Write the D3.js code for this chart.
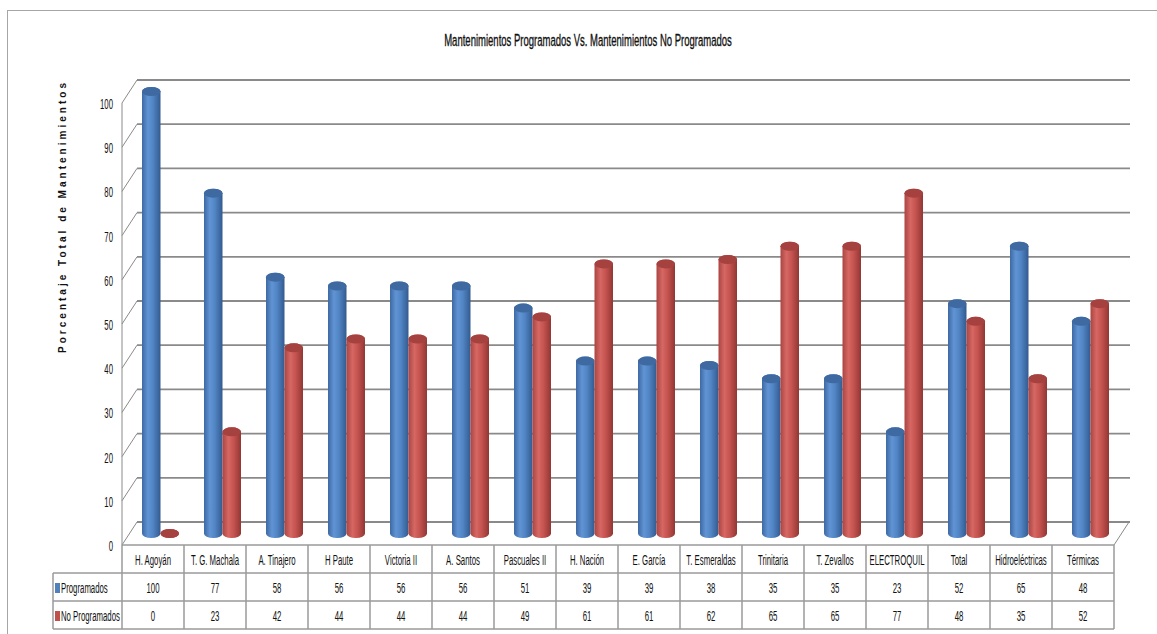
<!DOCTYPE html>
<html>
<head>
<meta charset="utf-8">
<script src="https://cdn.jsdelivr.net/npm/d3@7"></script>
<style>
  html, body { margin: 0; padding: 0; background: #ffffff; }
  svg { display: block; }
  text { font-family: "Liberation Sans", Arial, sans-serif; fill: #111; }
</style>
</head>
<body>
<svg id="chart" width="1157" height="634"></svg>
<script>
// ---- data ----
const categories = ["H. Agoyán", "T. G. Machala", "A. Tinajero", "H Paute", "Victoria II", "A. Santos",
  "Pascuales II", "H. Nación", "E. García", "T. Esmeraldas", "Trinitaria", "T. Zevallos",
  "ELECTROQUIL", "Total", "Hidroeléctricas", "Térmicas"];
const seriesNames = ["Programados", "No Programados"];
const programados = [100, 77, 58, 56, 56, 56, 51, 39, 39, 38, 35, 35, 23, 52, 65, 48];
const noProgramados = [0, 23, 42, 44, 44, 44, 49, 61, 61, 62, 65, 65, 77, 48, 35, 52];
const yTicks = [0, 10, 20, 30, 40, 50, 60, 70, 80, 90, 100];
const chartTitle = "Mantenimientos Programados Vs. Mantenimientos No Programados";
const yTitle = "Porcentaje Total de Mantenimientos";

const seriesValues = [programados, noProgramados];

// ---- layout ----
const svg = d3.select("#chart");
const left = 122, right = 1114;
const depthX = 15, depthY = -23;          // offset from front plane to back wall
const x = d3.scaleBand().domain(categories).range([left, right]).paddingInner(0);
const y = d3.scaleLinear().domain([0, 100]).range([545, 103]); // front plane
const sub = d3.scaleBand().domain(seriesNames).range([-18.5, 18.5]);

// narrow text: placed with a translate and compressed horizontally
function narrowText(parent, px, py, str, k, opts = {}) {
  const t = parent.append("text")
    .attr("transform", `translate(${px},${py}) scale(${k},1)`)
    .attr("text-anchor", opts.anchor || "middle")
    .attr("dominant-baseline", opts.baseline || "central")
    .attr("font-size", opts.size || 15)
    .text(str);
  return t;
}

// ---- gradients ----
const defs = svg.append("defs");
const palettes = {
  "Programados": { stops: ["#3d69a3", "#6194d4", "#5084c3", "#335b8f"], top: "#3f6aa1", key: "#4f81bd" },
  "No Programados": { stops: ["#aa4542", "#d66763", "#c5534f", "#913734"], top: "#a5413e", key: "#c0504d" }
};
seriesNames.forEach((s, i) => {
  const g = defs.append("linearGradient").attr("id", "grad" + i)
    .attr("x1", 0).attr("x2", 1).attr("y1", 0).attr("y2", 0);
  [0, 0.32, 0.6, 1].forEach((o, j) => g.append("stop").attr("offset", o).attr("stop-color", palettes[s].stops[j]));
});

// ---- outer frame ----
svg.append("rect").attr("x", 7.5).attr("y", 10.5).attr("width", 1170).attr("height", 640)
  .attr("fill", "none").attr("stroke", "#a6a6a6").attr("stroke-width", 1);

// ---- title ----
narrowText(svg, 588, 40, chartTitle, 0.56, { size: 17 })
  .attr("stroke", "#111").attr("stroke-width", 0.35);

// ---- y axis title ----
svg.append("text")
  .attr("transform", "translate(66,218) rotate(-90)")
  .attr("text-anchor", "middle").attr("font-size", 10).attr("font-weight", "bold")
  .attr("textLength", 270).attr("lengthAdjust", "spacing")
  .text(yTitle);

// ---- back wall gridlines and side diagonals ----
const grid = svg.append("g");
grid.selectAll("line.back").data(yTicks).join("line")
  .attr("x1", left + depthX).attr("x2", right + depthX + 1)
  .attr("y1", d => y(d) + depthY).attr("y2", d => y(d) + depthY)
  .attr("stroke", "#8a8a8a").attr("stroke-width", 1.8);
grid.selectAll("line.diag").data(yTicks).join("line")
  .attr("x1", left).attr("y1", d => y(d))
  .attr("x2", left + depthX).attr("y2", d => y(d) + depthY)
  .attr("stroke", "#8a8a8a").attr("stroke-width", 1);
// front vertical axis
grid.append("line").attr("x1", left).attr("x2", left).attr("y1", y(100)).attr("y2", y(0))
  .attr("stroke", "#8a8a8a").attr("stroke-width", 1);
// floor right edge
grid.append("line").attr("x1", right).attr("y1", y(0))
  .attr("x2", right + depthX).attr("y2", y(0) + depthY)
  .attr("stroke", "#8a8a8a").attr("stroke-width", 1);

// ---- y tick labels ----
const tickG = svg.append("g");
yTicks.forEach(v => narrowText(tickG, 113, y(v) + 1, v, 0.5, { anchor: "end", size: 15.5 }));

// ---- cylinders ----
const rx = sub.bandwidth() / 2, ry = 4.5;
const bars = [];
categories.forEach((c, i) => {
  seriesNames.forEach((s, j) => {
    const cx = x(c) + x.bandwidth() / 2 + depthX / 2 + sub(s) + rx;
    bars.push({ c, s, j, v: seriesValues[j][i], cx });
  });
});
const midY = v => y(v) + depthY / 2;
const barG = svg.append("g").selectAll("g").data(bars).join("g");
barG.append("path")
  .attr("d", d => {
    const l = d.cx - rx, r = d.cx + rx, yt = midY(d.v), yb = midY(0);
    return `M${l},${yt}L${l},${yb}A${rx},${ry} 0 0 0 ${r},${yb}L${r},${yt}A${rx},${ry} 0 0 0 ${l},${yt}Z`;
  })
  .attr("fill", d => `url(#grad${d.j})`);
barG.append("ellipse")
  .attr("cx", d => d.cx).attr("cy", d => midY(d.v))
  .attr("rx", rx).attr("ry", ry)
  .attr("fill", d => palettes[d.s].top);

// ---- data table ----
const rowY = [545, 573, 601, 629];
const tableLeft = 53;
const tbl = svg.append("g").attr("stroke", "#9a9a9a").attr("stroke-width", 1.5);
tbl.append("line").attr("x1", left).attr("x2", right).attr("y1", rowY[0]).attr("y2", rowY[0]);
[1, 2, 3].forEach(k => tbl.append("line").attr("x1", tableLeft).attr("x2", right)
  .attr("y1", rowY[k]).attr("y2", rowY[k]));
tbl.append("line").attr("x1", tableLeft).attr("x2", tableLeft).attr("y1", rowY[1]).attr("y2", rowY[3]);
tbl.selectAll("line.v").data(categories.concat(["end"])).join("line")
  .attr("x1", (d, i) => i < categories.length ? x(d) : right)
  .attr("x2", (d, i) => i < categories.length ? x(d) : right)
  .attr("y1", rowY[0]).attr("y2", rowY[3]);

const cellText = svg.append("g");
categories.forEach(c => narrowText(cellText, x(c) + x.bandwidth() / 2, (rowY[0] + rowY[1]) / 2 + 1, c, 0.52));
seriesNames.forEach((s, j) => {
  const cy = (rowY[j + 1] + rowY[j + 2]) / 2 + 1;
  seriesValues[j].forEach((v, i) =>
    narrowText(cellText, x(categories[i]) + x.bandwidth() / 2, cy, v, 0.52));
  cellText.append("rect").attr("x", 55).attr("y", cy - 5).attr("width", 5).attr("height", 10)
    .attr("fill", palettes[s].key);
  narrowText(cellText, 61, cy, s, 0.52, { anchor: "start" });
});
</script>
</body>
</html>
